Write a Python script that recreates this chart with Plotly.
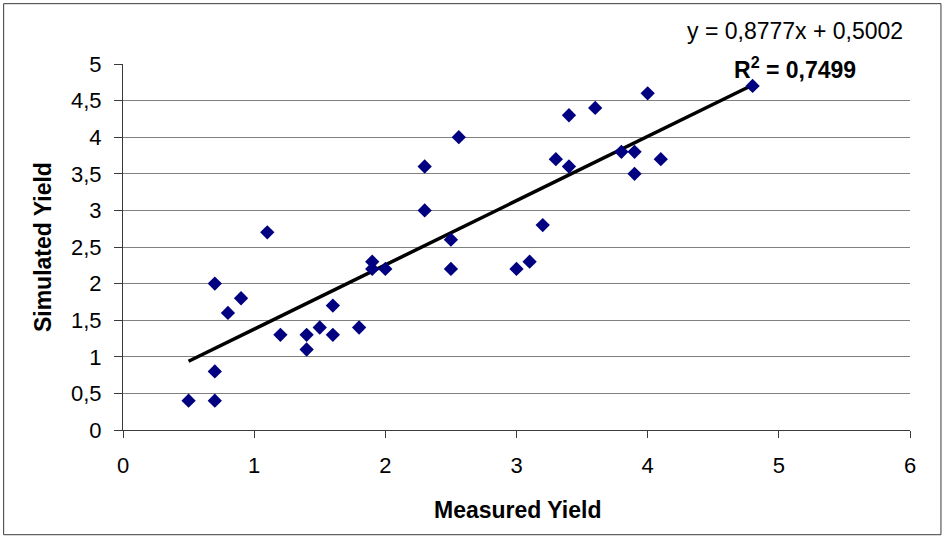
import plotly.graph_objects as go

# Data
measured_yield = [0.5, 0.7, 0.7, 0.7, 0.8, 0.9, 1.1, 1.2, 1.4, 1.4, 1.5, 1.6, 1.6, 1.8,
                  1.9, 1.9, 2.0, 2.3, 2.3, 2.5, 2.5, 2.56, 3.0, 3.1, 3.2, 3.3, 3.4, 3.4,
                  3.6, 3.8, 3.9, 3.9, 4.0, 4.1, 4.8]
simulated_yield = [0.4, 0.4, 0.8, 2.0, 1.6, 1.8, 2.7, 1.3, 1.3, 1.1, 1.4, 1.3, 1.7, 1.4,
                   2.3, 2.2, 2.2, 3.6, 3.0, 2.6, 2.2, 4.0, 2.2, 2.3, 2.8, 3.7, 4.3, 3.6,
                   4.4, 3.8, 3.8, 3.5, 4.6, 3.7, 4.7]
trend_slope = 0.8777
trend_intercept = 0.5002
r_squared = "0,7499"
equation_text = "y = 0,8777x + 0,5002"
x_title = "Measured Yield"
y_title = "Simulated Yield"

FONT = "Liberation Sans, Arial, sans-serif"

trend_x = [min(measured_yield), max(measured_yield)]
trend_y = [trend_slope * v + trend_intercept for v in trend_x]

fig = go.Figure()
fig.add_trace(go.Scatter(
    x=trend_x, y=trend_y, mode="lines",
    line=dict(color="black", width=3.5),
    showlegend=False, hoverinfo="skip",
))
fig.add_trace(go.Scatter(
    x=measured_yield, y=simulated_yield, mode="markers",
    marker=dict(symbol="diamond", color="#000080", size=11, line=dict(width=0)),
    showlegend=False,
))

W, H = 943, 538
L, R, T, B = 122.5, 910.5, 63.5, 430.5
pw, ph = R - L, B - T

def px(xp):
    return (xp - L) / pw

def py(yp):
    return (B - yp) / ph

fig.update_layout(
    width=W, height=H,
    margin=dict(l=L, r=W - R, t=T, b=H - B, pad=0),
    paper_bgcolor="white", plot_bgcolor="white",
    separators=", ",
    font=dict(family=FONT, size=22, color="black"),
    xaxis=dict(
        range=[0, 6], dtick=1, tick0=0,
        showgrid=False, zeroline=False,
        showline=True, linecolor="#3a3a3a", linewidth=1,
        ticks="outside", ticklen=7, tickcolor="#3a3a3a", tickwidth=1,
        ticklabelstandoff=9,
        tickfont=dict(family=FONT, size=22, color="black"),
    ),
    yaxis=dict(
        range=[0, 5], dtick=0.5, tick0=0,
        showgrid=True, gridcolor="#808080", gridwidth=1,
        zeroline=False,
        showline=True, linecolor="#3a3a3a", linewidth=1,
        ticks="outside", ticklen=8, tickcolor="#3a3a3a", tickwidth=1,
        ticklabelstandoff=8,
        tickfont=dict(family=FONT, size=22, color="black"),
    ),
    shapes=[dict(
        type="rect", xref="paper", yref="paper",
        x0=px(3), x1=px(941.5), y0=py(535.5), y1=py(3),
        line=dict(color="#3a3a3a", width=1), fillcolor="rgba(0,0,0,0)",
        layer="below",
    )],
    annotations=[
        dict(text=f"<b>{x_title}</b>", xref="paper", yref="paper",
             x=px(518), y=py(511), xanchor="center", yanchor="middle",
             showarrow=False, font=dict(family=FONT, size=23, color="black")),
        dict(text=f"<b>{y_title}</b>", xref="paper", yref="paper",
             x=px(42.5), y=0.5, xanchor="center", yanchor="middle", textangle=-90,
             showarrow=False, font=dict(family=FONT, size=23, color="black")),
        dict(text=equation_text, xref="paper", yref="paper",
             x=px(795), y=py(30), xanchor="center", yanchor="middle",
             showarrow=False, font=dict(family=FONT, size=23, color="black")),
        dict(text=f"<b>R<sup>2</sup> = {r_squared}</b>", xref="paper", yref="paper",
             x=px(795), y=py(68), xanchor="center", yanchor="middle",
             showarrow=False, font=dict(family=FONT, size=23, color="black")),
    ],
)

fig.write_html(
    "out.html",
    config={"displayModeBar": False},
    post_script="document.body.style.margin='0';document.body.style.overflow='hidden';",
)
